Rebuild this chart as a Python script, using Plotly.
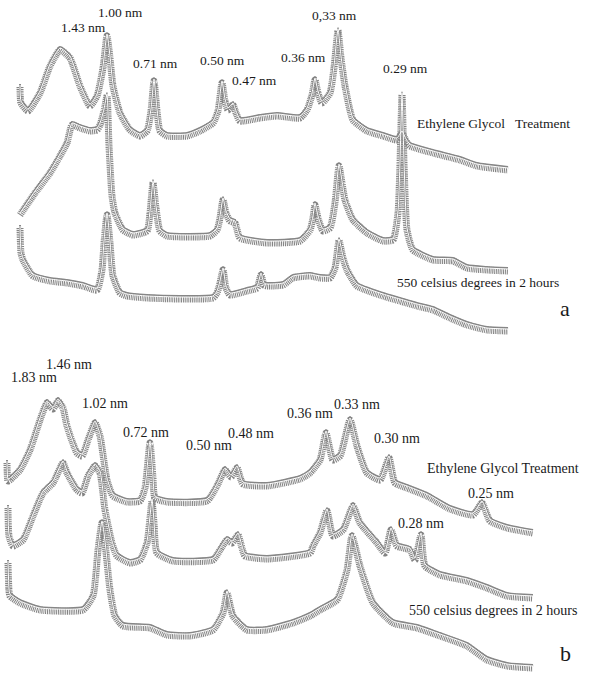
import plotly.graph_objects as go

# ---- Panel a (x = scan position, y = offset intensity, downward) ----
a_eg_x = [20, 21, 28, 40, 50, 60, 70, 80, 90, 97, 103, 107, 110, 113, 120, 130, 140, 147, 151, 154, 157, 160, 167,
          187, 200, 213, 218, 222, 225, 228, 233, 236, 240, 260, 277, 300, 307, 312, 315, 318, 322, 330, 334, 338,
          341, 345, 353, 367, 383, 397, 402, 406, 410, 433, 460, 477, 508]
a_eg_y = [84, 100, 108, 90, 63, 47, 55, 83, 103, 93, 65, 33, 55, 83, 110, 127, 133, 128, 108, 78, 108, 128, 133,
          133, 128, 120, 108, 80, 98, 107, 102, 110, 118, 115, 113, 115, 107, 92, 77, 90, 100, 90, 65, 28,
          55, 83, 117, 128, 133, 137, 130, 138, 143, 150, 157, 163, 167]

a_mid_x = [20, 35, 50, 60, 67, 72, 80, 90, 97, 100, 104, 107, 109, 112, 115, 123, 133, 147, 150, 153,
           156, 160, 167, 190, 210, 217, 220, 223, 226, 230, 235, 240, 267, 300, 310, 313, 315, 318, 323, 330, 335,
           339, 342, 345, 353, 367, 383, 393, 398, 400, 402, 404, 407, 413, 433, 453, 467, 487, 508]
a_mid_y = [212, 190, 170, 153, 140, 122, 125, 128, 127, 122, 108, 93, 143, 193, 210, 227, 232, 228, 210, 180,
           205, 228, 233, 234, 233, 227, 215, 197, 210, 218, 220, 235, 240, 238, 227, 215, 202, 215,
           228, 225, 200, 163, 180, 197, 217, 230, 238, 237, 210, 160, 92, 160, 227, 247, 257, 258, 265, 267, 268]

a_550_x = [20, 21, 23, 33, 50, 67, 83, 97, 102, 104, 107, 110, 113, 120, 127, 147, 180, 213, 217, 220, 223, 226,
           230, 247, 257, 261, 264, 267, 283, 293, 310, 320, 330, 335, 339, 343, 347, 357, 383, 400, 417, 433,
           450, 467, 487, 508]
a_550_y = [225, 250, 257, 273, 278, 280, 283, 287, 267, 240, 212, 240, 273, 290, 293, 295, 296, 295, 290, 280,
           267, 285, 292, 288, 285, 272, 282, 283, 282, 275, 273, 275, 275, 265, 238, 255, 267, 283, 293, 298,
           303, 307, 315, 322, 327, 328]

# ---- Panel b ----
b_eg_x = [7, 8, 10, 20, 30, 40, 47, 53, 58, 63, 67, 77, 82, 88, 95, 100, 107, 113, 127, 140, 145, 150, 153, 155,
          167, 207, 217, 225, 231, 237, 243, 267, 300, 310, 320, 326, 333, 340, 350, 357, 367, 380, 389, 395,
          407, 427, 450, 473, 482, 490, 507, 533]
b_eg_y = [460, 478, 477, 467, 447, 417, 400, 406, 398, 405, 423, 450, 453, 437, 420, 433, 477, 493, 499, 498,
          485, 440, 475, 495, 499, 498, 483, 467, 474, 465, 481, 483, 476, 470, 457, 430, 457, 453, 417, 443,
          470, 477, 455, 480, 485, 493, 506, 512, 500, 518, 525, 530]

b_mid_x = [8, 9, 13, 23, 33, 43, 53, 63, 67, 77, 82, 88, 95, 100, 105, 112, 117, 130, 140, 147, 150, 152, 154,
           157, 173, 213, 220, 227, 232, 238, 242, 245, 267, 310, 313, 320, 327, 333, 343, 353, 360, 377, 385,
           391, 397, 410, 415, 421, 425, 440, 467, 487, 507, 533]
b_mid_y = [505, 533, 543, 537, 513, 490, 480, 460, 470, 487, 490, 473, 463, 470, 507, 540, 553, 560, 557,
           540, 515, 498, 520, 550, 558, 557, 547, 537, 540, 532, 545, 553, 556, 550, 543, 530, 508, 533, 527,
           503, 520, 540, 550, 527, 543, 547, 557, 532, 563, 572, 578, 585, 593, 595]

b_550_x = [8, 9, 10, 20, 40, 83, 93, 98, 102, 105, 110, 115, 123, 150, 167, 190, 213, 223, 227, 233, 247, 267, 293,
           310, 320, 337, 347, 352, 360, 373, 393, 417, 440, 467, 487, 507, 533]
b_550_y = [560, 588, 593, 600, 607, 607, 593, 547, 520, 540, 587, 613, 623, 625, 632, 633, 627, 610, 590, 613, 627,
           627, 620, 613, 607, 597, 567, 533, 563, 600, 620, 625, 633, 643, 657, 663, 665]

series = [(a_eg_x, a_eg_y), (a_mid_x, a_mid_y), (a_550_x, a_550_y),
          (b_eg_x, b_eg_y), (b_mid_x, b_mid_y), (b_550_x, b_550_y)]

peak_labels_a = ["1.43 nm", "1.00 nm", "0.71 nm", "0.50 nm", "0.47 nm", "0.36 nm", "0,33 nm", "0.29 nm"]
peak_labels_b = ["1.83 nm", "1.46 nm", "1.02 nm", "0.72 nm", "0.50 nm", "0.48 nm", "0.36 nm", "0.33 nm",
                 "0.30 nm", "0.25 nm", "0.28 nm"]
treatment_labels = ["Ethylene Glycol   Treatment", "550 celsius degrees in 2 hours",
                    "Ethylene Glycol Treatment", "550 celsius degrees in 2 hours"]
panel_labels = ["a", "b"]

SPL = dict(shape="spline", smoothing=0.5)
fig = go.Figure()
for xs, ys in series:
    # noise hatching, reaching mostly below the curve
    fig.add_trace(go.Scatter(x=xs, y=ys, mode="lines", yaxis="y2",
                             line=dict(color="#848484", width=7, dash="1px,0.8px", **SPL),
                             hoverinfo="skip"))
    # solid trace
    fig.add_trace(go.Scatter(x=xs, y=ys, mode="lines",
                             line=dict(color="#888888", width=2, **SPL), hoverinfo="skip"))
    # white smoothed line
    fig.add_trace(go.Scatter(x=xs, y=ys, mode="lines", yaxis="y3",
                             line=dict(color="#ffffff", width=1, **SPL), hoverinfo="skip"))

FONT = "Liberation Serif"
def label(text, x, y, size=13.5, xanchor="center"):
    fig.add_annotation(x=x, y=y, text=text, showarrow=False, xanchor=xanchor, yanchor="middle",
                       font=dict(family=FONT, size=size, color="#1a1a1a"))

pos_a = [(83, 27), (120, 12), (155, 63), (222, 60), (254, 80), (303, 57), (334, 15), (405, 68)]
for t, (x, y) in zip(peak_labels_a, pos_a):
    label(t, x, y)
pos_b = [(34, 377), (69, 364), (105, 403), (146, 432), (209, 445), (251, 433), (310, 413), (357, 404),
         (397, 438), (491, 493), (421, 523)]
for t, (x, y) in zip(peak_labels_b, pos_b):
    label(t, x, y, size=14)

label(treatment_labels[0], 415, 123, xanchor="left")
label(treatment_labels[1], 395, 282, xanchor="left")
label(treatment_labels[2], 425, 468, size=14, xanchor="left")
label(treatment_labels[3], 407, 610, size=14, xanchor="left")
label(panel_labels[0], 565, 308, size=22)
label(panel_labels[1], 565, 653, size=22)

fig.update_layout(
    width=607, height=675, margin=dict(l=0, r=0, t=0, b=0),
    paper_bgcolor="white", plot_bgcolor="white", showlegend=False,
    xaxis=dict(range=[0, 607], visible=False, fixedrange=True),
    yaxis=dict(range=[675, 0], visible=False, fixedrange=True),
    yaxis2=dict(range=[672, -3], visible=False, overlaying="y", fixedrange=True),
    yaxis3=dict(range=[674, -1], visible=False, overlaying="y", fixedrange=True),
)
fig.write_html("out.html", config={"displayModeBar": False},
               post_script="document.body.style.margin='0';document.body.style.overflow='hidden';")
